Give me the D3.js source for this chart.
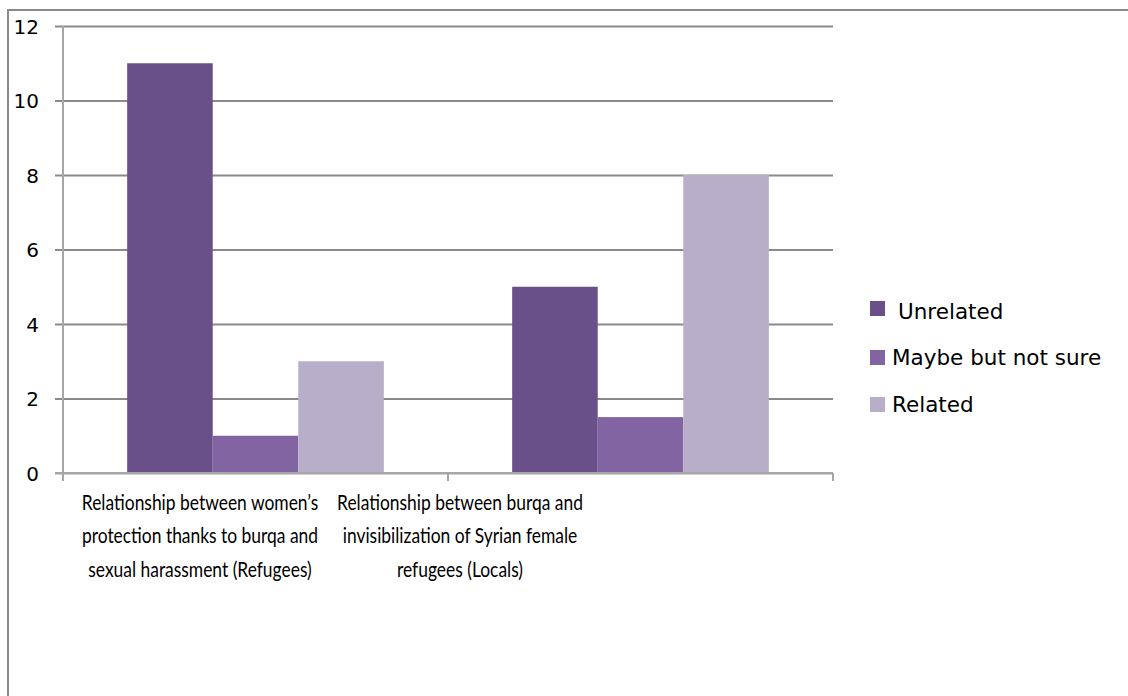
<!DOCTYPE html>
<html>
<head>
<meta charset="utf-8">
<script src="https://cdn.jsdelivr.net/npm/d3@7"></script>
<style>
  html, body { margin: 0; padding: 0; background: #fff; }
  svg { display: block; }
  text { font-family: "DejaVu Sans", sans-serif; fill: #000; }
</style>
</head>
<body>
<svg id="chart" width="1128" height="696"></svg>
<script>
const categories = [
  ["Relationship between women\u2019s", "protection thanks to burqa and", "sexual harassment (Refugees)"],
  ["Relationship between burqa and", "invisibilization of Syrian female", "refugees (Locals)"]
];
const seriesNames = ["Unrelated", "Maybe but not sure", "Related"];
const unrelated = [11, 5];
const maybe = [1, 1.5];
const related = [3, 8];
const yTicks = [0, 2, 4, 6, 8, 10, 12];

const colors = ["#6a5089", "#8264a3", "#b8aec9"];
const series = [unrelated, maybe, related];

const svg = d3.select("#chart");
const W = 1128, H = 696;
const plot = { left: 63, right: 833, top: 26, bottom: 473 };

// frame
svg.append("path")
  .attr("d", `M8,${H} L8,10 L${W},10`)
  .attr("fill", "none").attr("stroke", "#8a8a8a").attr("stroke-width", 2);

const x0 = d3.scaleBand().domain(d3.range(categories.length))
  .range([plot.left, plot.right]).paddingInner(0).paddingOuter(0);
const x1 = d3.scaleBand().domain(d3.range(seriesNames.length))
  .range([0, x0.bandwidth()]).paddingOuter(0.75).paddingInner(0);
const y = d3.scaleLinear().domain([0, 12]).range([plot.bottom, plot.top]);

// gridlines + y ticks
const gy = svg.append("g").attr("transform", `translate(${plot.left},0)`)
  .call(d3.axisLeft(y).tickValues(yTicks).tickSize(-(plot.right - plot.left)).tickSizeOuter(0).tickPadding(24));
gy.select(".domain").remove();
gy.selectAll(".tick line")
  .attr("x1", -8)
  .attr("stroke", "#8a8a8a").attr("stroke-width", 2);
gy.selectAll(".tick text")
  .style("font-size", "20px").style("font-family", "'DejaVu Sans', sans-serif")
  .attr("fill", "#000").attr("dy", "0.36em");
gy.selectAll(".tick").filter(d => d === 0).select("line").attr("stroke", "#a6a6a6");

// bars
const groups = svg.append("g").selectAll("g").data(categories).join("g")
  .attr("transform", (d, i) => `translate(${x0(i)},0)`);
groups.selectAll("rect").data((d, i) => series.map((s, k) => ({ k, v: s[i] }))).join("rect")
  .attr("x", d => x1(d.k))
  .attr("width", x1.bandwidth())
  .attr("y", d => y(d.v))
  .attr("height", d => y(0) - y(d.v))
  .attr("fill", d => colors[d.k]);

// axes lines
svg.append("line").attr("x1", plot.left).attr("x2", plot.left)
  .attr("y1", plot.top).attr("y2", plot.bottom + 8)
  .attr("stroke", "#a6a6a6").attr("stroke-width", 2);
svg.append("line").attr("x1", plot.left - 8).attr("x2", plot.right)
  .attr("y1", plot.bottom).attr("y2", plot.bottom)
  .attr("stroke", "#a6a6a6").attr("stroke-width", 2);
const xt = d3.range(1, categories.length + 1).map(i => i < categories.length ? x0(i) : plot.right);
svg.selectAll(".xtick").data(xt).join("line")
  .attr("x1", d => d).attr("x2", d => d)
  .attr("y1", plot.bottom).attr("y2", plot.bottom + 8)
  .attr("stroke", "#a6a6a6").attr("stroke-width", 2);

// category labels (condensed)
const labelCenters = [200, 460];
categories.forEach((lines, i) => {
  const t = svg.append("text").attr("text-anchor", "middle")
    .attr("transform", `translate(${labelCenters[i]},0) scale(0.83,1)`)
    .style("font-size", "21px")
    .style("font-family", "Lato, sans-serif");
  lines.forEach((ln, j) => {
    t.append("tspan").attr("x", 0).attr("y", 510 + j * 33.5).text(ln);
  });
});

// legend
const legend = svg.append("g");
const ly = [301, 350, 397];
const lx = [898, 892, 892];
const lb = [319, 365, 412];
seriesNames.forEach((n, k) => {
  legend.append("rect").attr("x", 870).attr("y", ly[k]).attr("width", 15).attr("height", 15).attr("fill", colors[k]);
  legend.append("text").attr("x", lx[k]).attr("y", lb[k]).style("font-size", "21.5px").text(n);
});
</script>
</body>
</html>
